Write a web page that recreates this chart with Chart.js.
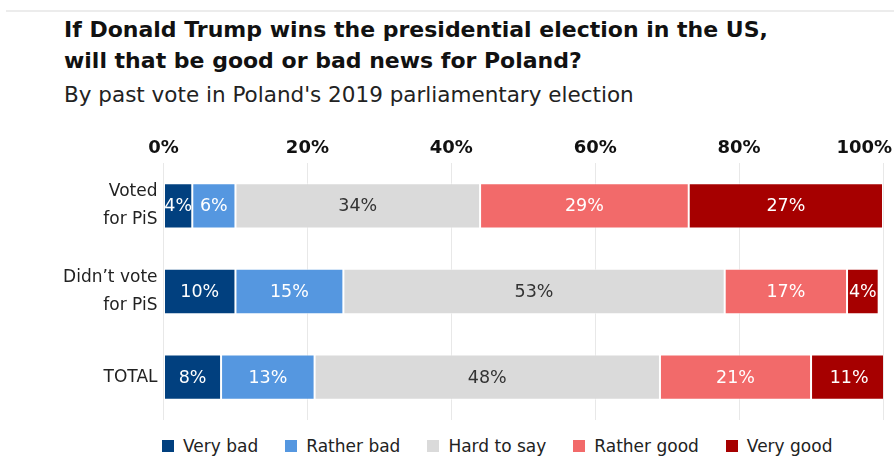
<!DOCTYPE html>
<html><head><meta charset="utf-8">
<script src="https://cdn.jsdelivr.net/npm/chart.js@4/dist/chart.umd.min.js"></script>
<style>
body{margin:0;background:#fff;width:894px;height:457px;overflow:hidden;position:relative;font-family:"DejaVu Sans",sans-serif;}
.topline{position:absolute;left:6px;right:0;top:10px;height:2px;background:#ececec}
#title{position:absolute;left:64px;top:14px;font-weight:bold;font-size:22px;line-height:31px;color:#111;letter-spacing:0}
#sub{position:absolute;left:64px;top:80px;font-size:21.5px;line-height:29px;color:#222;letter-spacing:0}
#wrap{position:absolute;left:0;top:0;width:894px;height:430px}
#legend{position:absolute;top:435px;left:162px;display:flex;align-items:center;font-size:17px;line-height:22px;color:#222}
#legend .it{display:flex;align-items:center;margin-right:27px}
#legend .sw{width:12px;height:12px;margin-right:9px}
</style></head>
<body>
<div class="topline"></div>
<div id="title">If Donald Trump wins the presidential election in the US,<br>will that be good or bad news for Poland?</div>
<div id="sub">By past vote in Poland's 2019 parliamentary election</div>
<div id="wrap"><canvas id="c"></canvas></div>
<div id="legend"></div>
<script>
const categories = [["Voted","for PiS"],["Didn’t vote","for PiS"],"TOTAL"];
const seriesNames = ["Very bad","Rather bad","Hard to say","Rather good","Very good"];
const veryBad = [4, 10, 8];
const ratherBad = [6, 15, 13];
const hardToSay = [34, 53, 48];
const ratherGood = [29, 17, 21];
const veryGood = [27, 4.4, 10.6];
const tickValues = [0, 20, 40, 60, 80, 100];
const colors = ["#01407f","#5597e0","#dadada","#f26a6a","#a60000"];
const labelColors = ["#fff","#fff","#333","#fff","#fff"];
const series = [veryBad, ratherBad, hardToSay, ratherGood, veryGood];

const FONT = '"DejaVu Sans",sans-serif';
const labelPlugin = {
  id:'segLabels',
  afterDatasetsDraw(chart){
    const ctx = chart.ctx;
    ctx.save();
    ctx.font = '17.5px ' + FONT;
    ctx.textAlign='center'; ctx.textBaseline='middle';
    chart.data.datasets.forEach((ds,i)=>{
      const meta = chart.getDatasetMeta(i);
      meta.data.forEach((el,j)=>{
        const p = el.getProps(['x','y','base'],true);
        ctx.fillStyle = labelColors[i];
        ctx.fillText(Math.round(ds.data[j])+'%', (p.x+p.base)/2, p.y+1);
      });
    });
    // top axis tick labels, kept inside the canvas
    const sx = chart.scales.x;
    ctx.font = 'bold 18px ' + FONT;
    ctx.fillStyle = '#111';
    ctx.textBaseline='middle';
    tickValues.forEach(v=>{
      const t = v+'%';
      const w = ctx.measureText(t).width;
      let x = sx.getPixelForValue(v);
      x = Math.min(x, chart.width - w/2 - 2);
      ctx.fillText(t, x, 148);
    });
    ctx.restore();
  }
};

new Chart(document.getElementById('c'),{
  type:'bar',
  data:{labels:categories,datasets:series.map((d,i)=>({label:seriesNames[i],data:d,backgroundColor:colors[i],borderColor:'rgba(255,255,255,0.6)',borderWidth:1,borderSkipped:false,barPercentage:0.53,categoryPercentage:1}))},
  options:{
    indexAxis:'y',responsive:true,maintainAspectRatio:false,animation:false,
    layout:{padding:{left:0,right:11,top:0,bottom:10}},
    plugins:{legend:{display:false},tooltip:{enabled:false}},
    scales:{
      x:{position:'top',stacked:true,min:0,max:100,
        afterBuildTicks(s){s.ticks = tickValues.map(v=>({value:v}));},
        afterFit(s){s.height=163;s.paddingLeft=0;s.paddingRight=0;},
        grid:{color:'#e8e8e8',drawTicks:false},border:{display:false},
        ticks:{display:false}},
      y:{stacked:true,
        afterFit(s){s.width=163.5;s.paddingTop=0;s.paddingBottom=0;},
        grid:{display:false,drawTicks:false},border:{display:false},
        ticks:{padding:6,color:'#222',font:{family:FONT,size:17,lineHeight:1.65}}}
    }
  },
  plugins:[labelPlugin]
});
const lg=document.getElementById('legend');
seriesNames.forEach((n,i)=>{const it=document.createElement('div');it.className='it';it.innerHTML='<div class="sw" style="background:'+colors[i]+'"></div><span>'+n+'</span>';lg.appendChild(it);});
</script>
</body></html>
